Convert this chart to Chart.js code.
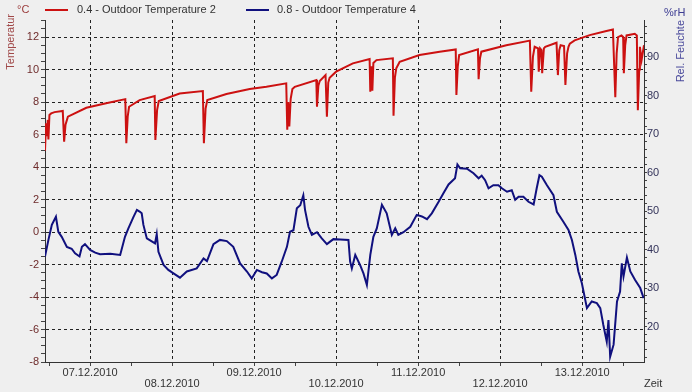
<!DOCTYPE html>
<html>
<head>
<meta charset="utf-8">
<script src="https://cdn.jsdelivr.net/npm/chart.js@4.4.1/dist/chart.umd.min.js"></script>
<style>
body{margin:0;background:#efefef;}
#wrap{width:692px;height:392px;position:relative;}
</style>
</head>
<body>
<div id="wrap"><canvas id="grafico"></canvas></div>
<script>

// =============================
// DATEN (Stunden ab 06.12.2010 00:00)
// =============================

const tage = ["06.12.2010","07.12.2010","08.12.2010","09.12.2010","10.12.2010","11.12.2010","12.12.2010","13.12.2010"];

const stundenTemp2 = [
10.8,11.1,11.35,11.6,11.8,12.1,12.6,13.6,16.0,16.4,16.8,17.5,22.9,28.7,34.3,34.6,35.0,35.4,38.5,42.9,
43.1,43.6,44.1,50.2,57.0,57.3,57.8,58.3,63.9,70.7,75.6,81.4,81.7,82.0,82.3,82.7,83.2,83.9,90.2,90.4,
90.8,91.2,92.9,93.3,93.7,94.1,96.0,100.9,105.8,106.0,106.3,106.6,106.9,107.8,112.6,112.8,113.2,113.6,114.6,120.4,
126.3,131.0,131.2,131.6,132.0,137.5,137.7,138.1,138.5,145.8,152.7,153.1,153.6,154.1,155.1,155.3,155.7,156.1,156.3,156.8,
157.2,160.5,160.9,161.3,161.7,162.7,163.1,163.6,164.0,164.4,165.8,170.2,175.1,177.0,177.7,178.1,178.5,179.5,180.0,180.2,
180.6,181.0,183.4,184.0,184.3,184.7,184.9,185.4,186.1
];

const temp2 = [
5.0,6.7,5.9,6.9,5.7,7.2,7.3,7.38,7.45,5.56,6.6,7.1,7.65,7.92,8.18,5.46,7.1,7.71,8.12,8.37,
5.66,7.5,8.06,8.52,8.68,5.46,7.6,8.12,8.5,8.8,8.94,9.15,6.3,8.0,6.5,8.2,8.8,8.94,9.35,7.71,
9.0,9.3,9.66,7.1,9.2,9.5,9.87,10.38,10.65,8.63,10.2,8.7,10.4,10.58,10.69,7.16,9.5,10.07,10.48,10.89,
11.1,11.24,8.43,10.2,10.89,11.24,9.4,10.7,11.1,11.5,11.78,8.63,10.8,11.4,11.3,9.87,11.3,11.2,9.77,11.3,
11.4,11.65,9.66,11.2,11.5,11.45,9.05,11.0,11.4,11.6,11.8,12.12,12.37,12.47,8.29,11.0,12.0,12.1,12.0,9.77,
11.5,12.1,12.2,12.1,7.5,10.0,11.4,10.6,11.5
];

const stundenTemp4 = [
10.8,11.8,12.8,14.0,14.7,15.7,17.2,18.6,19.6,20.9,21.6,22.5,24.0,25.5,26.9,29.9,32.8,34.2,35.2,36.7,
37.7,38.6,39.1,39.6,40.6,43.0,43.5,44.0,45.5,46.9,48.4,50.3,52.3,55.2,57.2,58.2,60.1,62.0,64.0,65.9,
67.9,69.9,71.3,72.8,74.3,75.7,77.2,78.6,80.1,81.6,82.5,83.5,84.5,85.5,86.4,86.9,87.9,88.9,90.4,91.8,
93.3,95.2,97.2,99.6,100.1,100.6,101.6,103.0,104.0,105.0,106.0,106.9,107.9,109.4,110.8,112.3,113.3,114.2,115.7,117.7,
119.6,121.1,122.6,124.0,126.0,127.4,128.9,130.8,131.5,132.3,134.3,136.2,137.7,138.6,139.6,140.6,142.0,143.5,144.5,146.0,
147.4,148.4,149.4,150.8,152.3,153.8,154.7,155.5,156.2,157.7,159.6,160.6,162.5,164.0,165.0,166.0,166.9,167.9,169.4,170.8,
172.3,173.3,174.2,175.2,175.7,176.2,177.2,178.2,179.1,179.6,180.1,181.1,182.1,183.5,185.0,186.0
];

const feuchte4 = [
38.2,42.5,46.4,48.5,44.6,43.3,40.7,40.2,39.0,38.2,40.7,41.4,39.9,39.2,38.8,38.9,38.6,43.3,45.5,48.5,
50.3,49.8,49.4,46.4,42.9,41.6,44.0,39.4,36.0,34.7,33.8,32.7,34.3,35.1,37.7,37.0,41.4,42.5,42.2,40.7,
36.4,34.3,32.5,34.7,34.1,33.8,32.5,33.4,36.9,40.7,44.6,45.0,50.7,51.5,54.1,50.3,45.9,43.8,44.5,42.9,
41.4,42.7,42.6,42.5,36.9,35.1,38.6,36.0,33.8,30.8,38.6,43.3,45.5,51.6,49.4,43.8,45.5,43.8,44.5,45.9,
49.0,48.6,47.9,49.4,52.4,54.6,56.9,58.5,62.1,61.1,61.0,59.8,58.5,59.2,58.0,55.9,56.7,56.7,55.9,55.0,
55.4,52.9,53.7,53.7,52.4,51.7,55.9,59.3,58.9,56.7,54.1,49.8,47.2,45.1,42.5,38.6,34.3,31.3,24.8,26.5,
26.1,24.8,20.4,16.1,21.7,12.2,15.3,26.5,29.1,36.4,33.0,37.9,34.3,32.1,30.0,27.4
];

const rot = "#cc1111";
const blau = "#10107e";
const schrift = "'Liberation Sans', Arial, sans-serif";

function punkte(xs, ys){
return xs.map((x,i)=>({x:x, y:ys[i]}));
}


// =============================
// BESCHRIFTUNG (Legende, Einheiten)
// =============================

const beschriftung = {
id: "beschriftung",
afterDraw(chart){

const ctx = chart.ctx;
ctx.save();
ctx.font = "11px " + schrift;
ctx.textBaseline = "middle";
ctx.textAlign = "left";

ctx.fillStyle = "#9b3c3c";
ctx.fillText("°C", 17, 10);

ctx.fillStyle = "#3c3c92";
ctx.fillText("%rH", 664, 13);

ctx.fillStyle = "#333";
ctx.fillText("Zeit", 644, 384);

// legende
ctx.lineWidth = 2;
ctx.strokeStyle = rot;
ctx.beginPath(); ctx.moveTo(45,10); ctx.lineTo(68,10); ctx.stroke();
ctx.strokeStyle = blau;
ctx.beginPath(); ctx.moveTo(246,10); ctx.lineTo(269,10); ctx.stroke();

ctx.fillStyle = "#333";
ctx.fillText(chart.data.datasets[0].label, 77, 10);
ctx.fillText(chart.data.datasets[1].label, 277, 10);

// achsentitel
ctx.save();
ctx.translate(11, 14);
ctx.rotate(-Math.PI/2);
ctx.textAlign = "right";
ctx.fillStyle = "#a04848";
ctx.fillText("Temperatur", 0, 0);
ctx.restore();

ctx.save();
ctx.translate(681, 20);
ctx.rotate(-Math.PI/2);
ctx.textAlign = "right";
ctx.fillStyle = "#4a4a9c";
ctx.fillText("Rel. Feuchte", 0, 0);
ctx.restore();

ctx.restore();
}
};


// =============================
// GRAFICO
// =============================

new Chart(document.getElementById("grafico"), {
type: "line",
data: {
datasets: [{
label: "0.4 - Outdoor Temperature 2",
data: punkte(stundenTemp2, temp2),
borderColor: rot,
borderWidth: 2,
pointRadius: 0,
yAxisID: "y"
},{
label: "0.8 - Outdoor Temperature 4",
data: punkte(stundenTemp4, feuchte4),
borderColor: blau,
borderWidth: 2,
pointRadius: 0,
yAxisID: "y2"
}]
},
options: {
responsive: true,
maintainAspectRatio: false,
animation: false,
layout: {padding: {top: 20, left: 0, right: 0, bottom: 0}},
plugins: {legend: {display: false}, tooltip: {enabled: false}},
scales: {
x: {
type: "linear",
min: 10.8,
max: 186.1,
afterFit: s => { s.height = 30; },
ticks: {
stepSize: 12,
includeBounds: false,
autoSkip: false,
maxRotation: 0,
minRotation: 0,
padding: 1,
color: "#333",
font: {family: schrift, size: 11, lineHeight: 1},
callback: v => {
if (v % 24 !== 0) return "";
const i = v / 24;
return i % 2 === 1 ? tage[i] : ["", tage[i]];
}
},
grid: {
color: c => (c.tick && c.tick.value % 24 === 0) ? "#222" : "rgba(0,0,0,0)",
tickColor: "#444",
tickLength: 4
},
border: {color: "#333", dash: [3,3]}
},
y: {
position: "left",
min: -8,
max: 13.05,
afterFit: s => { s.width = 45; },
ticks: {
stepSize: 0.5,
includeBounds: false,
autoSkip: false,
padding: 2,
color: "#6e2b2b",
font: {family: schrift, size: 11, lineHeight: 1},
callback: v => v % 2 === 0 ? String(v) : ""
},
grid: {
color: c => (c.tick && c.tick.value % 2 === 0 && c.tick.value > -8) ? "#222" : "rgba(0,0,0,0)",
tickColor: "#444",
tickLength: 4
},
border: {color: "#333", dash: [3,3]}
},
y2: {
position: "right",
min: 10.8,
max: 99.6,
afterFit: s => { s.width = 48; },
ticks: {
stepSize: 2,
includeBounds: false,
autoSkip: false,
padding: 0,
color: "#33335a",
font: {family: schrift, size: 11, lineHeight: 1},
callback: v => v % 10 === 0 ? String(v) : ""
},
grid: {drawOnChartArea: false, tickColor: "#444", tickLength: 3},
border: {color: "#333"}
}
}
},
plugins: [beschriftung]
});

</script>
</body>
</html>
